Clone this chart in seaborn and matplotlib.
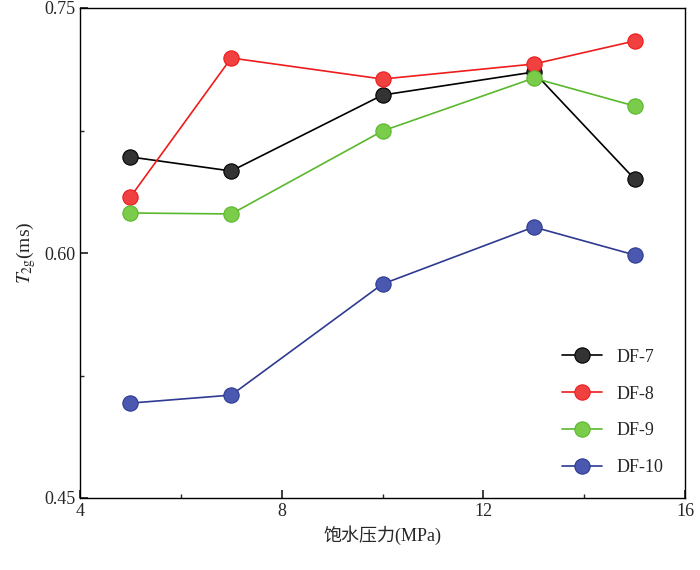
import matplotlib
matplotlib.use("Agg")
import matplotlib.pyplot as plt
import seaborn as sns
import pandas as pd
from matplotlib.ticker import MultipleLocator

pressure = [5, 7, 10, 13, 15]
df7 = [0.6588, 0.6502, 0.6967, 0.7108, 0.6453]
df8 = [0.6343, 0.7194, 0.7065, 0.7157, 0.7298]
df9 = [0.6245, 0.6239, 0.6747, 0.7071, 0.6900]
df10 = [0.5081, 0.5130, 0.5810, 0.6159, 0.5988]
names = ["DF-7", "DF-8", "DF-9", "DF-10"]
colors = ["#000000", "#ee1c1c", "#5ab82d", "#2e3a92"]
faces = ["#333333", "#f04040", "#7acc4a", "#4a58b0"]

sns.set_theme(style="ticks")
plt.rcParams["font.family"] = ["Liberation Serif", "Noto Sans CJK SC"]
plt.rcParams["mathtext.fontset"] = "stix"

rows = []
for n, vals in zip(names, [df7, df8, df9, df10]):
    for p, v in zip(pressure, vals):
        rows.append({"p": p, "t": v, "s": n})
data = pd.DataFrame(rows)

fig = plt.figure(figsize=(7, 5.7), dpi=100)
ax = fig.add_axes([80 / 700, 1 - 498 / 570, 605 / 700, 490 / 570])
for n, c, f in zip(names, colors, faces):
    sub = data[data["s"] == n]
    sns.lineplot(data=sub, x="p", y="t", ax=ax, color=c, lw=1.2, marker="o",
                 markersize=11, markerfacecolor=f, markeredgecolor=c,
                 markeredgewidth=0.8, label=n)

ax.set_xlim(4, 16)
ax.set_ylim(0.45, 0.75)
ax.xaxis.set_major_locator(MultipleLocator(4))
ax.xaxis.set_minor_locator(MultipleLocator(2))
ax.yaxis.set_major_locator(MultipleLocator(0.15))
ax.yaxis.set_minor_locator(MultipleLocator(0.075))
ax.yaxis.set_major_formatter(lambda v, p: f"{v:.2f}")
ax.tick_params(direction="in", which="both", labelsize=13)
ax.tick_params(which="major", length=6)
ax.tick_params(which="minor", length=3)
for s in ax.spines.values():
    s.set_linewidth(1.0)
    s.set_color("black")
ax.set_xlabel("饱水压力(MPa)", fontsize=13)
ax.set_ylabel(r"$T_{\mathrm{2g}}$(ms)", fontsize=14)
ax.legend(loc="lower right", frameon=False, fontsize=13, handlelength=2.2,
          labelspacing=1.1, borderaxespad=0.8)
fig.savefig("out.png", dpi=100)
